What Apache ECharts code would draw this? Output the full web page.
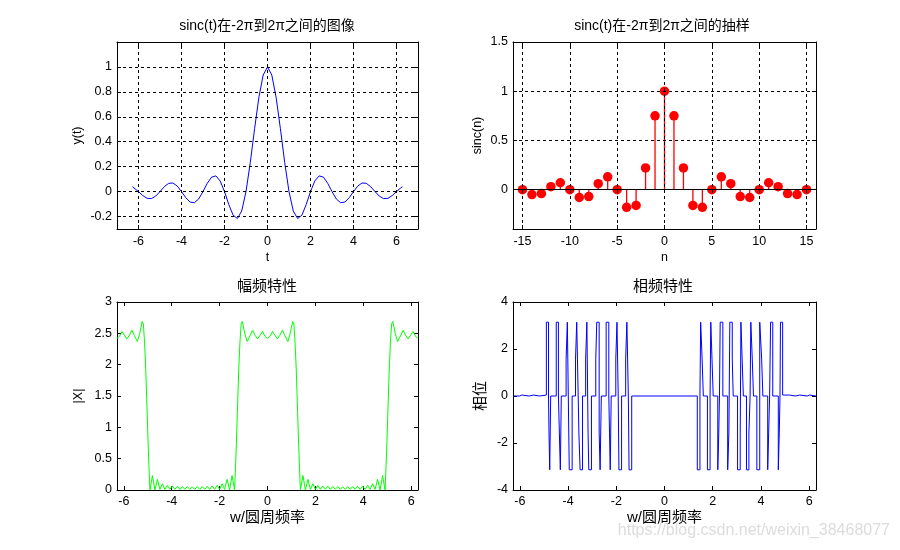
<!DOCTYPE html>
<html><head><meta charset="utf-8">
<script src="https://cdn.jsdelivr.net/npm/echarts@6/dist/echarts.min.js"></script>
<style>html,body{margin:0;padding:0;background:#fff}#c{width:900px;height:550px}</style>
</head><body><div id="c"></div>
<script>
// ---------- data ----------
const sincT = [-6.28,-6.2,-6.0,-5.8,-5.6,-5.4,-5.2,-5.0,-4.8,-4.6,-4.4,-4.2,-4.0,-3.8,-3.6,-3.4,-3.2,-3.0,-2.8,-2.6,-2.4,-2.2,-2.0,-1.8,-1.6,-1.4,-1.2,-1.0,-0.8,-0.6,-0.4,-0.2,0,
  0.2,0.4,0.6,0.8,1.0,1.2,1.4,1.6,1.8,2.0,2.2,2.4,2.6,2.8,3.0,3.2,3.4,3.6,3.8,4.0,4.2,4.4,4.6,4.8,5.0,5.2,5.4,5.6,5.8,6.0,6.2,6.28];
const sincY = [0.039,0.030,0,-0.032,-0.054,-0.056,-0.036,0,0.039,0.066,0.069,0.045,0,-0.049,-0.084,-0.089,-0.059,0,0.067,0.116,0.126,0.085,0,-0.104,-0.189,-0.216,-0.156,0,0.234,0.505,0.757,0.935,1.0,
  0.935,0.757,0.505,0.234,0,-0.156,-0.216,-0.189,-0.104,0,0.085,0.126,0.116,0.067,0,-0.059,-0.089,-0.084,-0.049,0,0.045,0.069,0.066,0.039,0,-0.036,-0.056,-0.054,-0.032,0,0.030,0.039];

const stemN = [-15,-14,-13,-12,-11,-10,-9,-8,-7,-6,-5,-4,-3,-2,-1,0,1,2,3,4,5,6,7,8,9,10,11,12,13,14,15];
const stemV = [0,-0.05,-0.04,0.03,0.07,0,-0.08,-0.07,0.06,0.13,0,-0.18,-0.16,0.22,0.75,1.0,0.75,0.22,-0.16,-0.18,0,0.13,0.06,-0.07,-0.08,0,0.07,0.03,-0.04,-0.05,0];

const magW = [-6.283,-6.183,-6.073,-5.973,-5.873,-5.763,-5.663,-5.553,-5.433,-5.333,-5.233,-5.183,-5.133,-5.083,-5.026,-4.983,-4.933,
  -4.908,-4.804,-4.700,-4.596,-4.492,-4.388,-4.284,-4.180,-4.076,-3.973,-3.869,-3.765,-3.661,-3.557,-3.453,-3.349,-3.245,-3.141,-3.037,-2.934,-2.830,-2.726,-2.622,-2.518,-2.414,-2.310,-2.206,-2.102,-1.998,-1.895,-1.791,-1.687,-1.583,-1.479,-1.375,
  -1.35,-1.30,-1.257,-1.20,-1.15,-1.10,-1.05,-0.95,-0.85,-0.73,-0.62,-0.52,-0.41,-0.31,-0.21,-0.10,0,0.10,0.21,0.31,0.41,0.52,0.62,0.73,0.85,0.95,1.05,1.10,1.15,1.20,1.257,1.30,1.35,
  1.375,1.479,1.583,1.687,1.791,1.895,1.998,2.102,2.206,2.310,2.414,2.518,2.622,2.726,2.830,2.934,3.037,3.141,3.245,3.349,3.453,3.557,3.661,3.765,3.869,3.973,4.076,4.180,4.284,4.388,4.492,4.596,4.700,4.804,4.908,
  4.933,4.983,5.026,5.083,5.133,5.183,5.233,5.333,5.433,5.553,5.663,5.763,5.873,5.973,6.073,6.183,6.283];
const magV = [2.42,2.45,2.53,2.47,2.41,2.47,2.55,2.46,2.37,2.50,2.69,2.65,2.36,1.93,1.25,0.73,0.22,
  0,0.23,0,0.17,0.01,0.10,0.01,0.075,0.01,0.065,0.01,0.06,0.01,0.055,0.01,0.055,0.01,0.05,0.01,0.055,0.01,0.055,0.01,0.06,0.01,0.065,0.01,0.075,0.01,0.10,0.01,0.17,0,0.23,0,
  0.22,0.73,1.25,1.93,2.36,2.65,2.69,2.50,2.37,2.46,2.55,2.47,2.41,2.47,2.53,2.45,2.42,2.45,2.53,2.47,2.41,2.47,2.55,2.46,2.37,2.50,2.69,2.65,2.36,1.93,1.25,0.73,0.22,
  0,0.23,0,0.17,0.01,0.10,0.01,0.075,0.01,0.065,0.01,0.06,0.01,0.055,0.01,0.055,0.01,0.05,0.01,0.055,0.01,0.055,0.01,0.06,0.01,0.065,0.01,0.075,0.01,0.10,0.01,0.17,0,0.23,0,
  0.22,0.73,1.25,1.93,2.36,2.65,2.69,2.50,2.37,2.46,2.55,2.47,2.41,2.47,2.53,2.45,2.42];

// phase: breakpoints, value holds from w until next w
const phaseW = [-6.283,-6.01,-5.92,-5.61,-5.43,-5.18,
  -4.90,-4.81,-4.79,-4.76,-4.72,
  -4.49,-4.40,-4.36,-4.32,-4.28,
  -4.08,-4.03,-3.95,-3.83,
  -3.69,-3.64,-3.58,-3.55,-3.50,-3.40,
  -3.27,-3.22,-3.17,-3.14,-3.03,
  -2.85,-2.81,-2.71,-2.67,-2.62,
  -2.42,-2.31,-2.28,-2.25,-2.21,
  -2.02,-1.97,-1.92,-1.89,-1.78,
  -1.61,-1.56,-1.50,-1.47,-1.36,
  1.36,1.47,1.50,1.56,1.61,
  1.78,1.89,1.92,1.97,2.02,
  2.21,2.25,2.28,2.31,2.42,
  2.62,2.67,2.71,2.81,2.85,
  3.03,3.14,3.17,3.22,3.27,
  3.40,3.50,3.55,3.58,3.64,3.69,
  3.83,3.95,4.03,4.08,
  4.28,4.32,4.36,4.40,4.49,
  4.72,4.76,4.79,4.81,4.90,
  5.18,5.43,5.61,5.92,6.01,6.283];
const phaseV = [0,0.04,0,0.04,0,0.04,
  3.14,0,-1.57,-3.14,0,
  3.14,0,-1.57,-3.14,0,
  1.57,3.14,-3.14,0,
  1.57,3.14,0,-1.57,-3.14,0,
  1.57,3.14,-1.57,-3.14,0,
  1.57,3.14,-1.57,-3.14,0,
  3.14,0,-1.57,-3.14,0,
  1.57,3.14,0,-3.14,0,
  1.57,3.14,0,-3.14,0,
  -3.14,0,3.14,1.57,0,
  -3.14,0,3.14,1.57,0,
  -3.14,-1.57,0,3.14,0,
  -3.14,-1.57,3.14,1.57,0,
  -3.14,-1.57,3.14,1.57,0,
  -3.14,-1.57,0,3.14,1.57,0,
  -3.14,3.14,1.57,0,
  -3.14,-1.57,0,3.14,0,
  -3.14,-1.57,0,3.14,0.04,
  0,0.04,0,0.04,0,0];

// ticks
const tlXTicks = [-6,-4,-2,0,2,4,6];
const tlYTicks = [-0.2,0,0.2,0.4,0.6,0.8,1];
const trXTicks = [-15,-10,-5,0,5,10,15];
const trYTicks = [0,0.5,1,1.5];
const bXTicks = [-6,-4,-2,0,2,4,6];
const blYTicks = [0,0.5,1,1.5,2,2.5,3];
const brYTicks = [-4,-2,0,2,4];
const PI2 = 6.2832;

// ---------- style ----------
const FONT = "'Liberation Sans', Arial, 'Noto Sans CJK SC', sans-serif";
const LBL = 12.5;

function axis(gi, pos, min, max, ticks, showLabel, margin, name, nameGap, nameSize) {
  return {
    type: 'value', gridIndex: gi, position: pos, min: min, max: max,
    axisLine: {show: true, onZero: false, lineStyle: {color: '#000', width: 1}},
    axisTick: {show: true, inside: true, length: 4, customValues: ticks, lineStyle: {color: '#000', width: 1}},
    axisLabel: {show: showLabel, customValues: ticks, margin: margin, color: '#000', fontSize: LBL, fontFamily: FONT},
    splitLine: {show: false}, minorTick: {show: false},
    name: name || '', nameLocation: 'middle', nameGap: nameGap || 0,
    nameTextStyle: {color: '#000', fontSize: nameSize || LBL, fontFamily: FONT},
    silent: true
  };
}

const grids = [
  {left: 117, top: 42, width: 301, height: 187},
  {left: 513, top: 42, width: 303, height: 187},
  {left: 117, top: 302, width: 301, height: 188},
  {left: 513, top: 302, width: 303, height: 188}
].map(g => Object.assign({containLabel: false, outerBoundsMode: 'none', show: false}, g));

const xAxes = [
  axis(0, 'bottom', -7, 7, tlXTicks, true, 6.5, 't', 22),
  axis(0, 'top', -7, 7, tlXTicks, false, 0),
  axis(1, 'bottom', -16, 16, trXTicks, true, 6.5, 'n', 22),
  axis(1, 'top', -16, 16, trXTicks, false, 0),
  axis(2, 'bottom', -PI2, PI2, bXTicks, true, 5, 'w/圆周频率', 20, 15),
  axis(2, 'top', -PI2, PI2, bXTicks, false, 0),
  axis(3, 'bottom', -PI2, PI2, bXTicks, true, 5, 'w/圆周频率', 20, 15),
  axis(3, 'top', -PI2, PI2, bXTicks, false, 0)
];
const yAxes = [
  axis(0, 'left', -0.3, 1.2, tlYTicks, true, 5, 'y(t)', 33),
  axis(0, 'right', -0.3, 1.2, tlYTicks, false, 0),
  axis(1, 'left', -0.4, 1.5, trYTicks, true, 5, 'sinc(n)', 29),
  axis(1, 'right', -0.4, 1.5, trYTicks, false, 0),
  axis(2, 'left', 0, 3, blYTicks, true, 5, '|X|', 32),
  axis(2, 'right', 0, 3, blYTicks, false, 0),
  axis(3, 'left', -4, 4, brYTicks, true, 5, '相位', 25, 15),
  axis(3, 'right', -4, 4, brYTicks, false, 0)
];

function gridLines(xi, xs, ys) {
  return {
    type: 'line', xAxisIndex: xi, yAxisIndex: xi, data: [], z: 1, silent: true,
    markLine: {
      silent: true, symbol: ['none', 'none'], label: {show: false}, animation: false,
      emphasis: {disabled: true},
      lineStyle: {color: '#000', width: 1, type: [3, 3]},
      data: xs.map(v => ({xAxis: v})).concat(ys.map(v => ({yAxis: v})))
    }
  };
}

const series = [
  gridLines(0, tlXTicks, tlYTicks),
  {type: 'line', xAxisIndex: 0, yAxisIndex: 0, z: 3, symbol: 'none', silent: true,
   lineStyle: {color: '#0000ff', width: 1}, data: sincT.map((t, i) => [t, sincY[i]])},
  gridLines(2, trXTicks, trYTicks.filter(v => v !== 0)),
  {type: 'line', xAxisIndex: 2, yAxisIndex: 2, data: [], z: 2, silent: true,
   markLine: {silent: true, symbol: ['none', 'none'], label: {show: false}, animation: false,
     emphasis: {disabled: true}, lineStyle: {color: '#000', width: 1, type: 'solid'}, data: [{yAxis: 0}]}},
  {type: 'bar', xAxisIndex: 2, yAxisIndex: 2, z: 3, barWidth: 1.3, silent: true,
   itemStyle: {color: '#ff0000', opacity: 1}, data: stemN.map((n, i) => [n, stemV[i]])},
  {type: 'scatter', xAxisIndex: 2, yAxisIndex: 2, z: 4, symbol: 'circle', symbolSize: 9.5, silent: true,
   itemStyle: {color: '#ff0000', opacity: 1}, data: stemN.map((n, i) => [n, stemV[i]])},
  {type: 'line', xAxisIndex: 4, yAxisIndex: 4, z: 3, symbol: 'none', silent: true,
   lineStyle: {color: '#00ff00', width: 1}, data: magW.map((w, i) => [w, magV[i]])},
  {type: 'line', xAxisIndex: 6, yAxisIndex: 6, z: 3, symbol: 'none', silent: true, step: 'end',
   lineStyle: {color: '#0000ff', width: 1}, data: phaseW.map((w, i) => [w, phaseV[i]])}
];

function txt(x, y, text, size, extra) {
  return {type: 'text', x: x, y: y, silent: true, z: 10,
    style: Object.assign({text: text, fontSize: size, fontFamily: FONT, fill: '#000',
      align: 'center', verticalAlign: 'middle'}, extra || {})};
}

const chart = echarts.init(document.getElementById('c'), null, {renderer: 'canvas'});
chart.setOption({
  animation: false,
  backgroundColor: '#fff',
  grid: grids,
  xAxis: xAxes,
  yAxis: yAxes,
  series: series,
  graphic: [
    txt(267, 26, 'sinc(t)在-2π到2π之间的图像', 14),
    txt(662, 26, 'sinc(t)在-2π到2π之间的抽样', 14),
    txt(267, 287, '幅频特性', 15),
    txt(663, 287, '相频特性', 15),
    txt(890, 531, 'https://blog.csdn.net/weixin_38468077', 16, {align: 'right', fill: '#dcdcdc'})
  ]
});
</script></body></html>
